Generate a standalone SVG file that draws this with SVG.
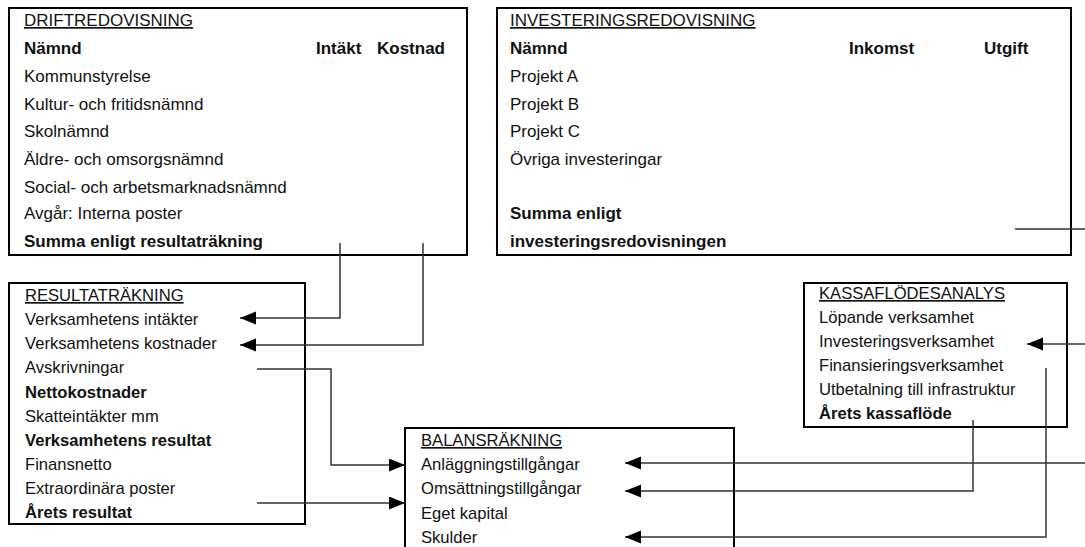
<svg xmlns="http://www.w3.org/2000/svg" width="1085" height="547" viewBox="0 0 1085 547">
<style>
.box{fill:#fff;stroke:#000;stroke-width:2}
text{font-family:"Liberation Sans",Arial,sans-serif;font-size:17px;fill:#111}
.s{font-size:16.6px}
.b{font-weight:bold}
.t{text-decoration:underline}
.c{fill:none;stroke:#333;stroke-width:1.5}
</style>
<defs>
<marker id="ah" markerUnits="userSpaceOnUse" markerWidth="18" markerHeight="14" refX="16" refY="6.5" orient="auto">
<path d="M0,0 L16,6.5 L0,13 z" fill="#000"/>
</marker>
</defs>
<g id="driftredovisning">
<rect class="box" x="9" y="8" width="458" height="247"/>
<text x="24" y="26" class="t">DRIFTREDOVISNING</text>
<text x="24" y="54" class="b">Nämnd</text>
<text x="316" y="54" class="b">Intäkt</text>
<text x="377" y="54" class="b">Kostnad</text>
<text x="24" y="82">Kommunstyrelse</text>
<text x="24" y="110">Kultur- och fritidsnämnd</text>
<text x="24" y="137">Skolnämnd</text>
<text x="24" y="165">Äldre- och omsorgsnämnd</text>
<text x="24" y="193">Social- och arbetsmarknadsnämnd</text>
<text x="24" y="219">Avgår: Interna poster</text>
<text x="24" y="247" class="b">Summa enligt resultaträkning</text>
</g>
<g id="investeringsredovisning">
<rect class="box" x="497" y="8" width="574" height="247"/>
<text x="510" y="26" class="t">INVESTERINGSREDOVISNING</text>
<text x="510" y="54" class="b">Nämnd</text>
<text x="849" y="54" class="b">Inkomst</text>
<text x="984" y="54" class="b">Utgift</text>
<text x="510" y="82">Projekt A</text>
<text x="510" y="110">Projekt B</text>
<text x="510" y="137">Projekt C</text>
<text x="510" y="165">Övriga investeringar</text>
<text x="510" y="219" class="b">Summa enligt</text>
<text x="510" y="247" class="b">investeringsredovisningen</text>
</g>
<g id="resultatrakning">
<rect class="box" x="9" y="283" width="296" height="241"/>
<text x="25" y="301" class="s t">RESULTATRÄKNING</text>
<text x="25" y="325" class="s">Verksamhetens intäkter</text>
<text x="25" y="349" class="s">Verksamhetens kostnader</text>
<text x="25" y="373" class="s">Avskrivningar</text>
<text x="25" y="398" class="s b">Nettokostnader</text>
<text x="25" y="422" class="s">Skatteintäkter mm</text>
<text x="25" y="446" class="s b">Verksamhetens resultat</text>
<text x="25" y="470" class="s">Finansnetto</text>
<text x="25" y="494" class="s">Extraordinära poster</text>
<text x="25" y="518" class="s b">Årets resultat</text>
</g>
<g id="balansrakning">
<rect class="box" x="405" y="428" width="329" height="130"/>
<text x="421" y="446" class="s t">BALANSRÄKNING</text>
<text x="421" y="470" class="s">Anläggningstillgångar</text>
<text x="421" y="494" class="s">Omsättningstillgångar</text>
<text x="421" y="519" class="s">Eget kapital</text>
<text x="421" y="543" class="s">Skulder</text>
</g>
<g id="kassaflodesanalys">
<rect class="box" x="804" y="283" width="263" height="144"/>
<text x="819" y="299" class="s t">KASSAFLÖDESANALYS</text>
<text x="819" y="323" class="s">Löpande verksamhet</text>
<text x="819" y="347" class="s">Investeringsverksamhet</text>
<text x="819" y="371" class="s">Finansieringsverksamhet</text>
<text x="819" y="395" class="s">Utbetalning till infrastruktur</text>
<text x="819" y="419" class="s b">Årets kassaflöde</text>
</g>
<g id="connectors">
<path class="c" d="M340,243 V318 H240" marker-end="url(#ah)"/>
<path class="c" d="M423,243 V345 H240" marker-end="url(#ah)"/>
<path class="c" d="M257,369 H331 V465 H405" marker-end="url(#ah)"/>
<path class="c" d="M257,503 H405" marker-end="url(#ah)"/>
<path class="c" d="M1015,229 H1100 V463 H625" marker-end="url(#ah)"/>
<path class="c" d="M1100,344 H1027" marker-end="url(#ah)"/>
<path class="c" d="M973,420 V491 H625" marker-end="url(#ah)"/>
<path class="c" d="M1046,368 V537 H625" marker-end="url(#ah)"/>
</g>
</svg>
